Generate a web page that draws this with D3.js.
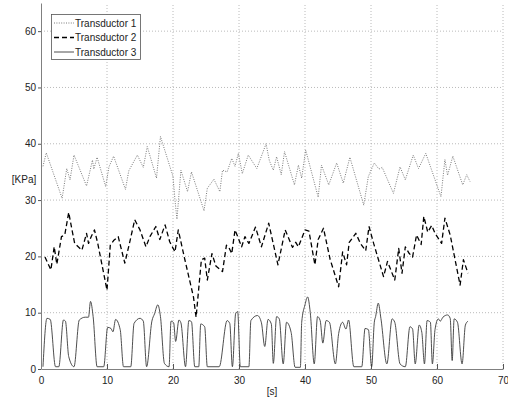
<!DOCTYPE html>
<html>
<head>
<meta charset="utf-8">
<script src="https://cdn.jsdelivr.net/npm/d3@7"></script>
<style>
  body { margin: 0; background: #fff; }
  text { font-family: "Liberation Sans", Arial, sans-serif; }
</style>
</head>
<body>
<script>
let width = 508, height = 398;
let margin = {top: 3, right: 5, bottom: 29, left: 41};

// Transductor 1 (dotted)
let t1 = [0.3, 0.8, 3.2, 3.9, 4.4, 5.0, 6.9, 7.8, 8.0, 8.5, 9.8, 10.3, 11.0, 12.8, 13.3, 14.6, 15.5, 16.1, 17.5, 18.1,
          20.0, 20.3, 20.6, 21.2, 22.2, 22.8, 24.7, 25.2, 26.2, 27.1, 27.5, 28.2, 28.9, 29.4, 29.9, 30.5, 31.4, 32.7, 34.1, 34.6,
          35.2, 35.7, 36.4, 36.9, 38.4, 39.0, 39.5, 40.1, 42.0, 42.5, 43.6, 44.8, 45.8, 46.8, 48.9, 49.6, 50.5, 51.2, 51.7, 53.4,
          54.4, 55.2, 56.4, 57.2, 58.3, 60.6, 61.2, 61.6, 62.4, 63.9, 64.5, 65.0];
let kpa1 = [36.0, 38.4, 30.3, 35.6, 33.6, 38.0, 32.5, 37.1, 35.5, 37.6, 32.4, 35.9, 37.8, 31.9, 35.2, 38.0, 35.8, 39.5, 33.9, 41.3,
            34.2, 30.0, 26.6, 35.3, 31.5, 35.0, 28.1, 32.1, 33.7, 31.5, 35.3, 35.0, 37.4, 36.0, 38.3, 34.7, 38.0, 35.6, 40.0, 37.0,
            35.3, 37.7, 34.5, 38.6, 32.7, 36.2, 33.9, 38.9, 30.5, 36.2, 32.7, 36.6, 33.0, 37.6, 29.1, 34.2, 36.6, 35.5, 35.8, 31.2,
            35.9, 33.6, 38.0, 35.6, 38.3, 30.6, 37.2, 34.4, 37.8, 32.7, 34.5, 33.3];

// Transductor 2 (dashed)
let t2 = [0.6, 1.5, 2.0, 2.4, 3.1, 3.6, 4.2, 4.7, 5.1, 6.2, 6.9, 7.2, 7.6, 8.1, 8.6, 10.0, 10.5, 11.0, 11.7, 12.7,
          13.4, 14.2, 15.0, 15.9, 16.5, 17.4, 18.0, 18.8, 19.5, 20.3, 20.8, 21.8, 23.1, 23.5, 24.3, 24.8, 25.2, 25.9, 26.5, 27.5,
          28.1, 28.5, 28.9, 29.4, 30.4, 30.9, 31.5, 32.5, 33.4, 34.5, 35.9, 37.0, 38.1, 38.6, 39.0, 40.0, 40.6, 41.5, 42.0, 42.8,
          43.8, 45.1, 45.7, 46.3, 46.7, 47.7, 48.4, 49.2, 49.7, 50.4, 51.9, 52.5, 53.6, 54.2, 54.7, 55.2, 55.8, 56.3, 56.9, 57.6,
          58.0, 58.6, 59.2, 59.7, 60.7, 61.2, 62.0, 63.5, 64.0, 64.7];
let kpa2 = [19.9, 17.6, 21.7, 18.6, 23.5, 23.8, 27.8, 24.7, 22.3, 21.1, 24.1, 22.3, 23.5, 24.7, 22.3, 14.0, 22.0, 22.8, 23.5, 18.8,
            22.3, 26.5, 24.7, 21.7, 23.5, 25.3, 23.0, 25.6, 22.6, 20.8, 24.7, 19.4, 12.8, 9.2, 19.4, 19.7, 15.8, 20.5, 18.3, 17.3,
            22.0, 21.5, 20.5, 24.7, 21.7, 23.5, 22.3, 25.2, 21.7, 25.9, 18.5, 24.7, 21.6, 22.5, 21.7, 24.7, 24.5, 18.5, 23.0, 25.0,
            19.5, 14.6, 20.8, 18.5, 22.5, 24.1, 22.3, 21.0, 25.3, 22.3, 16.4, 19.1, 15.8, 21.4, 17.0, 21.7, 20.5, 19.9, 23.8, 22.1,
            27.1, 24.3, 25.5, 24.1, 22.3, 26.8, 23.8, 14.9, 19.4, 17.0];

// Transductor 3 (solid)
let t3 = [0.3, 0.9, 1.4, 2.2, 2.7, 3.4, 3.7, 4.2, 5.0, 5.8, 6.7, 7.2, 7.5, 7.9, 8.5, 9.5, 10.1, 10.6, 10.9, 11.3,
          12.0, 12.5, 13.6, 14.1, 15.0, 15.5, 16.0, 16.8, 17.2, 17.7, 18.1, 18.7, 19.4, 19.7, 20.1, 20.4, 20.9, 21.2, 21.9, 22.4,
          22.8, 23.3, 23.9, 24.2, 24.8, 25.2, 27.0, 28.2, 28.6, 29.0, 29.5, 29.8, 30.2, 31.5, 31.8, 32.8, 33.4, 33.9, 34.4, 34.9,
          35.2, 35.7, 36.1, 36.7, 37.2, 37.9, 38.5, 39.3, 39.5, 40.0, 40.4, 40.8, 41.4, 41.9, 42.3, 42.7, 43.2, 43.7, 44.6, 45.1,
          45.7, 46.2, 46.6, 47.4, 48.6, 49.1, 49.6, 50.1, 50.5, 50.7, 51.1, 51.5, 52.4, 53.2, 53.6, 54.4, 55.2, 55.9, 56.3, 56.7,
          57.3, 57.7, 58.1, 58.5, 59.0, 59.3, 59.7, 60.2, 60.5, 60.9, 61.6, 62.0, 62.3, 62.6, 63.1, 63.8, 64.3, 64.7];
let kpa3 = [0.4, 9.0, 8.8, 0.4, 0.4, 8.7, 8.5, 2.2, 0.4, 8.7, 9.2, 9.2, 12.0, 9.3, 0.4, 0.4, 7.4, 7.2, 6.6, 8.8,
            7.0, 0.4, 0.4, 8.1, 9.0, 8.5, 0.4, 8.5, 9.8, 11.4, 9.3, 1.0, 0.4, 8.5, 8.2, 4.9, 8.7, 8.2, 0.4, 8.6,
            8.4, 0.4, 0.4, 8.0, 7.5, 0.4, 0.4, 8.6, 8.1, 0.4, 9.9, 10.2, 0.4, 0.4, 8.6, 9.5, 8.2, 4.0, 8.8, 8.0,
            1.0, 9.3, 8.9, 0.9, 8.3, 6.5, 0.3, 0.3, 8.3, 11.4, 12.8, 10.0, 0.9, 9.3, 8.6, 4.6, 8.6, 8.3, 0.9, 6.3,
            8.3, 7.1, 8.7, 0.4, 0.4, 7.2, 7.0, 0.4, 8.3, 9.3, 11.7, 9.0, 0.9, 8.9, 8.3, 0.9, 0.4, 7.5, 7.1, 0.9,
            7.8, 6.5, 0.9, 8.6, 8.3, 0.9, 7.0, 8.9, 8.5, 9.2, 9.6, 9.0, 1.5, 8.9, 8.3, 0.9, 7.8, 8.5];

let xTicks = [0, 10, 20, 30, 40, 50, 60, 70];
let yTicks = [0, 10, 20, 30, 40, 50, 60];
let names = ["Transductor 1", "Transductor 2", "Transductor 3"];

let series = [
    {name: names[0], pts: d3.zip(t1, kpa1), color: "#7a7a7a", w: 1, dash: "1,1.4"},
    {name: names[1], pts: d3.zip(t2, kpa2), color: "#000", w: 1.3, dash: "5,3"},
    {name: names[2], pts: d3.zip(t3, kpa3), color: "#3a3a3a", w: 0.9, dash: null}
];

let svg = d3.select("body").append("svg")
    .attr("width", width)
    .attr("height", height);

let x = d3.scaleLinear().domain([0, 70]).range([margin.left, width - margin.right]);
let y = d3.scaleLinear().domain([0, 65]).range([height - margin.bottom, margin.top]);

// grid
svg.append("g").selectAll("line").data(xTicks.slice(1)).enter().append("line")
    .attr("x1", d => x(d)).attr("x2", d => x(d))
    .attr("y1", y(0)).attr("y2", y(65))
    .attr("stroke", "#a8a8a8").attr("stroke-width", 0.8).attr("stroke-dasharray", "1,2");
svg.append("g").selectAll("line").data(yTicks.slice(1)).enter().append("line")
    .attr("x1", x(0)).attr("x2", x(70))
    .attr("y1", d => y(d)).attr("y2", d => y(d))
    .attr("stroke", "#a8a8a8").attr("stroke-width", 0.8).attr("stroke-dasharray", "1,2");

// axes
let xAxis = svg.append("g")
    .attr("transform", "translate(0," + y(0) + ")")
    .call(d3.axisBottom(x).tickValues(xTicks).tickSizeInner(-5).tickSizeOuter(0).tickPadding(8));
let yAxis = svg.append("g")
    .attr("transform", "translate(" + x(0) + ",0)")
    .call(d3.axisLeft(y).tickValues(yTicks).tickSizeInner(3).tickSizeOuter(0).tickPadding(2));

[xAxis, yAxis].forEach(g => {
    g.select(".domain").attr("stroke", "#808080");
    g.selectAll(".tick line").attr("stroke", "#555");
    g.selectAll(".tick text").attr("fill", "#222").style("font-size", "10px")
        .style("font-family", "'Liberation Sans', Arial, sans-serif");
});

// lines
let line = d3.line().x(d => x(d[0])).y(d => y(d[1]));
series.forEach(s => {
    svg.append("path")
        .datum(s.pts)
        .attr("fill", "none")
        .attr("stroke", s.color)
        .attr("stroke-width", s.w)
        .attr("stroke-dasharray", s.dash)
        .attr("stroke-linejoin", "round")
        .attr("d", line.curve(s.dash ? d3.curveLinear : d3.curveMonotoneX));
});

// axis labels
svg.append("text").attr("x", (x(0) + x(70)) / 2).attr("y", 395)
    .attr("text-anchor", "middle").attr("font-size", 10).attr("fill", "#222").text("[s]");
svg.append("text").attr("x", 24).attr("y", 183)
    .attr("text-anchor", "middle").attr("font-size", 10).attr("fill", "#222").text("[KPa]");

// legend
let lg = svg.append("g");
lg.append("rect").attr("x", 51.5).attr("y", 14.5).attr("width", 89).attr("height", 45)
    .attr("fill", "#fff").attr("stroke", "#555").attr("stroke-width", 0.8);
series.forEach((s, i) => {
    let yy = 23 + i * 14.5;
    lg.append("line").attr("x1", 54).attr("x2", 74).attr("y1", yy).attr("y2", yy)
        .attr("stroke", s.color).attr("stroke-width", s.w).attr("stroke-dasharray", s.dash);
    lg.append("text").attr("x", 75).attr("y", yy + 3.5).attr("font-size", 10).attr("fill", "#222").text(s.name);
});
</script>
</body>
</html>
